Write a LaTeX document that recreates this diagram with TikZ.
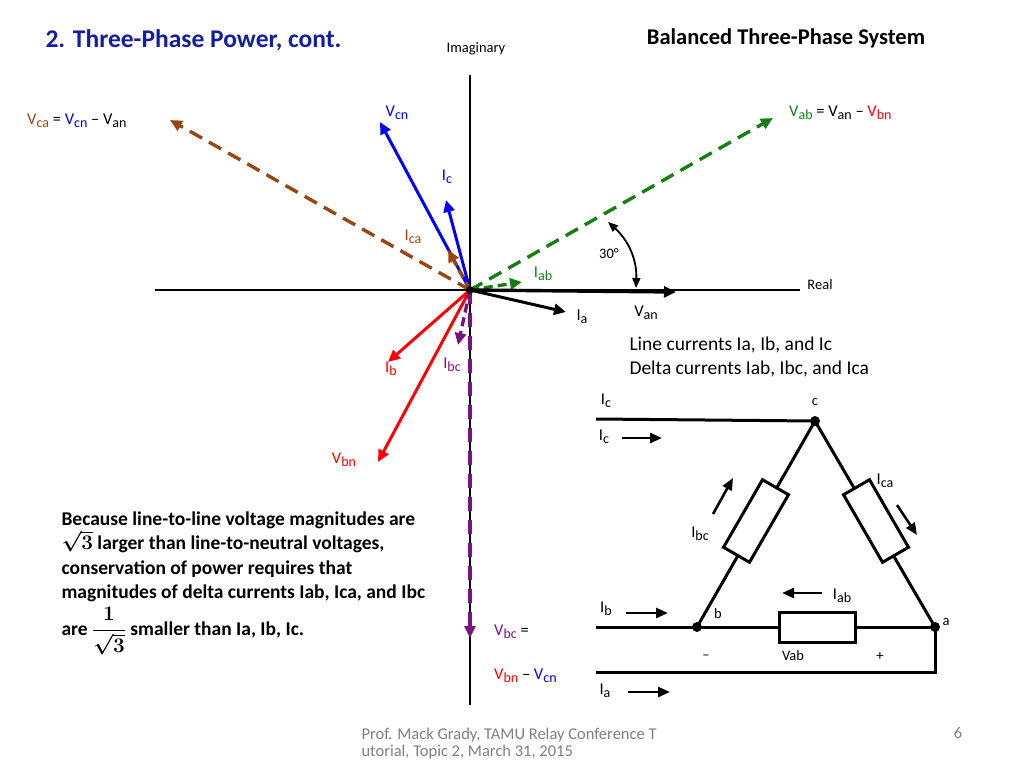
\documentclass[tikz,border=0pt]{standalone}
\usepackage{amsmath,amssymb}
\usepackage{fontspec}
\setmainfont{Carlito}
\usetikzlibrary{arrows.meta}
\definecolor{brn}{RGB}{153,69,17}
\definecolor{grn}{RGB}{20,128,20}
\definecolor{prp}{RGB}{120,20,130}
\definecolor{ttl}{RGB}{20,30,160}
\newcommand\sbx[1]{\raisebox{-0.35ex}{\scalebox{0.85}{#1}}}
\begin{document}
\begin{tikzpicture}[x=1pt,y=-1pt,
 vec/.style={line width=3pt,-{Triangle[length=12pt,width=11pt]}},
 dvec/.style={vec,line width=3.4pt,dash pattern=on 14pt off 8pt},
 wire/.style={line width=3pt},
 lab/.style={font=\fontsize{16.5}{19}\selectfont,inner sep=1pt},
 small/.style={font=\fontsize{14.5}{16}\selectfont,inner sep=1pt},
 cur/.style={line width=2.6pt,-{Triangle[length=12pt,width=10pt]}},
 dot/.style={circle,fill,inner sep=0pt,minimum size=10pt}]
\useasboundingbox (0,0) rectangle (1024,768);
\node[anchor=west,font=\fontsize{25.5}{29}\selectfont\bfseries,text=ttl] (title) at (42,40) {2. Three-Phase Power, cont.};
\node[font=\fontsize{22.5}{26}\selectfont\bfseries] (sub) at (786,38) {Balanced Three-Phase System};
% axes
\coordinate (O) at (470,290);
\coordinate (xl) at (155,290); \coordinate (xr) at (800,290);
\coordinate (yt) at (470,75); \coordinate (yb) at (470,705);
\draw[line width=2.2pt] (xl) -- (xr);
\draw[line width=2.2pt] (yt) -- (yb);
\node[small] (imag) at (476,49) {Imaginary};
\node[small] (real) at (820,285) {Real};
% vectors
\coordinate (Vca) at (170,120); \coordinate (Vcn) at (380,122); \coordinate (Ic) at (446,200);
\coordinate (Ica) at (448,250); \coordinate (Vab) at (773,118); \coordinate (Iab) at (522,282);
\coordinate (Van) at (676,292); \coordinate (Ia) at (566,312); \coordinate (Ib) at (388,362);
\coordinate (Vbn) at (378,462); \coordinate (Ibc) at (458,345); \coordinate (Vbc) at (470,638);
\draw[dvec,prp,line width=3.2pt,dash pattern=on 14pt off 9pt] (O) -- (Vbc);
\draw[dvec,brn] (O) -- (Vca);
\draw[dvec,grn] (O) -- (Vab);
\draw[vec,blue] (O) -- (Vcn);
\draw[vec,blue] (O) -- (Ic);
\draw[dvec,brn,dash pattern=on 9pt off 5pt] (O) -- (Ica);
\draw[dvec,grn,dash pattern=on 9pt off 5pt] (O) -- (Iab);
\draw[vec,line width=3.4pt] (O) -- (Van);
\draw[vec] (O) -- (Ia);
\draw[vec,red] (O) -- (Ib);
\draw[vec,red] (O) -- (Vbn);
\draw[dvec,prp,dash pattern=on 9pt off 5pt] (O) -- (Ibc);
\fill (O) circle (4pt);
\coordinate (a1) at (608,222); \coordinate (a2) at (636,288);
\draw[line width=1.8pt,{Triangle[length=10pt,width=8pt]}-{Triangle[length=10pt,width=8pt]}] (a1) to[bend left=25] (a2);
\node[small] (deg) at (609,254) {30°};
\node[lab,anchor=west] (lVca) at (26,121) {\textcolor{brn}{V\sbx{ca}} = \textcolor{blue}{V\sbx{cn}} – V\sbx{an}};
\node[lab,anchor=west] (lVab) at (788,113) {\textcolor{grn}{V\sbx{ab}} = V\sbx{an} – \textcolor{red}{V\sbx{bn}}};
\node[lab,text=blue] (lVcn) at (397,113) {V\sbx{cn}};
\node[lab,text=blue] (lIc) at (447,177) {I\sbx{c}};
\node[lab,text=brn] (lIca) at (413,237) {I\sbx{ca}};
\node[lab,text=grn] (lIab) at (543,274) {I\sbx{ab}};
\node[lab] (lVan) at (646,313) {V\sbx{an}};
\node[lab] (lIa) at (582,317) {I\sbx{a}};
\node[lab,text=red] (lIb) at (391,369) {I\sbx{b}};
\node[lab,text=prp] (lIbc) at (452,365) {I\sbx{bc}};
\node[lab,text=red] (lVbn) at (344,460) {V\sbx{bn}};
\node[lab,anchor=west] (lVbc1) at (493,632) {\textcolor{prp}{V\sbx{bc}} =};
\node[lab,anchor=west] (lVbc2) at (493,676) {\textcolor{red}{V\sbx{bn}} – \textcolor{blue}{V\sbx{cn}}};
\node[font=\fontsize{19.5}{24}\selectfont,anchor=north west,align=left] (lines) at (626,333) {Line currents Ia, Ib, and Ic\\Delta currents Iab, Ibc, and Ica};
% paragraph
\node[font=\fontsize{19.5}{24.5}\selectfont\bfseries,anchor=north west,align=left] (para) at (58,508)
 {Because line-to-line voltage magnitudes are\\
 $\boldsymbol{\sqrt{3}}$ larger than line-to-neutral voltages,\\
 conservation of power requires that\\
 magnitudes of delta currents Iab, Ica, and Ibc\\[4pt]
 are $\boldsymbol{\dfrac{1}{\sqrt{3}}}$ smaller than Ia, Ib, Ic.};
% circuit
\coordinate (c) at (815,421);
\coordinate (b) at (697,627);
\coordinate (a) at (935,627);
\coordinate (tl) at (596,419); \coordinate (bl) at (596,627);
\coordinate (ll) at (596,672); \coordinate (lr) at (935,672);
\draw[wire] (tl) -- (c);
\draw[wire] (bl) -- (b);
\draw[wire] (ll) -- (lr) -- (a);
\draw[wire] (b) -- (a);
\draw[wire] (b) -- (c);
\draw[wire] (c) -- (a);
\node[draw,line width=3pt,minimum width=76pt,minimum height=30pt,fill=white] (Rab) at (817,627) {};
\node[draw,line width=3pt,minimum width=78pt,minimum height=30pt,fill=white,rotate=60] (Rbc) at (756,521) {};
\node[draw,line width=3pt,minimum width=78pt,minimum height=30pt,fill=white,rotate=-60] (Rca) at (876,521) {};
\node[dot] (nc) at (c) {};
\node[dot] (nb) at (b) {};
\node[dot] (na) at (a) {};
\coordinate (i1s) at (622,438); \coordinate (i1e) at (662,438);
\coordinate (i2s) at (626,613); \coordinate (i2e) at (668,613);
\coordinate (i3s) at (628,692); \coordinate (i3e) at (670,692);
\coordinate (i4s) at (822,593); \coordinate (i4e) at (782,593);
\coordinate (i5s) at (713,514); \coordinate (i5e) at (733,478);
\coordinate (i6s) at (897,505); \coordinate (i6e) at (917,535);
\foreach \s/\e in {i1s/i1e,i2s/i2e,i3s/i3e,i4s/i4e,i5s/i5e,i6s/i6e} \draw[cur] (\s) -- (\e);
\node[lab] (cIc1) at (606,401) {I\sbx{c}};
\node[lab] (cIc2) at (604,437) {I\sbx{c}};
\node[small] (cc) at (815,402) {c};
\node[lab] (cIca) at (885,481) {I\sbx{ca}};
\node[lab] (cIbc) at (700,534) {I\sbx{bc}};
\node[lab] (cIb) at (606,609) {I\sbx{b}};
\node[small] (cb) at (718,614) {b};
\node[lab] (cIab) at (842,596) {I\sbx{ab}};
\node[small] (ca) at (946,622) {a};
\node[small] (cm) at (706,657) {–};
\node[small] (cV) at (793,656) {Vab};
\node[small] (cp) at (880,657) {+};
\node[lab] (cIa) at (605,691) {I\sbx{a}};
% footer
\node[font=\fontsize{16.5}{17.5}\selectfont,text=gray,anchor=north west,align=left] (foot) at (358,724) {Prof. Mack Grady, TAMU Relay Conference T\\utorial, Topic 2, March 31, 2015};
\node[font=\fontsize{16.5}{17}\selectfont,text=gray] (pg) at (958,733) {6};
\end{tikzpicture}
\end{document}
